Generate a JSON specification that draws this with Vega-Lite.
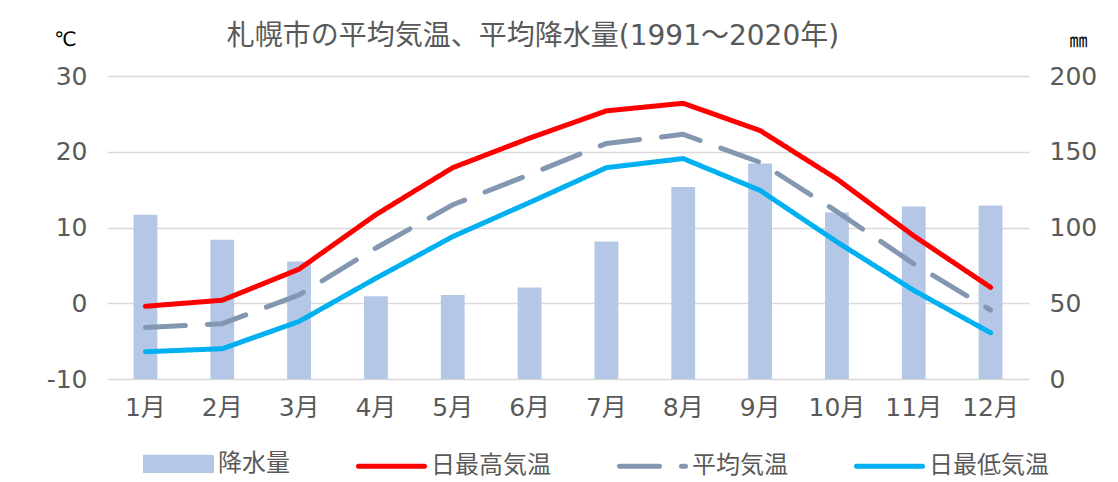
{
  "$schema": "https://vega.github.io/schema/vega-lite/v6.json",
  "width": 922,
  "height": 303,
  "autosize": {"type": "none"},
  "padding": {"left": 107, "top": 76, "right": 89, "bottom": 103},
  "background": "white",
  "title": {
    "text": "札幌市の平均気温、平均降水量(1991～2020年)",
    "anchor": "middle",
    "frame": "group",
    "dx": -35,
    "dy": 44,
    "offset": 0,
    "baseline": "alphabetic",
    "font": "'DejaVu Sans', 'Noto Sans CJK JP'",
    "fontSize": 28,
    "fontWeight": "normal",
    "color": "#595959"
  },
  "config": {
    "view": {"stroke": null},
    "font": "'DejaVu Sans', 'Noto Sans CJK JP'"
  },
  "data": {
    "values": [
      {"month": "1月", "series": "降水量", "value": 108.4},
      {"month": "2月", "series": "降水量", "value": 91.9},
      {"month": "3月", "series": "降水量", "value": 77.6},
      {"month": "4月", "series": "降水量", "value": 54.6},
      {"month": "5月", "series": "降水量", "value": 55.5},
      {"month": "6月", "series": "降水量", "value": 60.4},
      {"month": "7月", "series": "降水量", "value": 90.7},
      {"month": "8月", "series": "降水量", "value": 126.8},
      {"month": "9月", "series": "降水量", "value": 142.2},
      {"month": "10月", "series": "降水量", "value": 109.9},
      {"month": "11月", "series": "降水量", "value": 113.8},
      {"month": "12月", "series": "降水量", "value": 114.5},
      {"month": "1月", "series": "日最高気温", "value": -0.4},
      {"month": "2月", "series": "日最高気温", "value": 0.4},
      {"month": "3月", "series": "日最高気温", "value": 4.5},
      {"month": "4月", "series": "日最高気温", "value": 11.7},
      {"month": "5月", "series": "日最高気温", "value": 17.9},
      {"month": "6月", "series": "日最高気温", "value": 21.8},
      {"month": "7月", "series": "日最高気温", "value": 25.4},
      {"month": "8月", "series": "日最高気温", "value": 26.4},
      {"month": "9月", "series": "日最高気温", "value": 22.8},
      {"month": "10月", "series": "日最高気温", "value": 16.4},
      {"month": "11月", "series": "日最高気温", "value": 8.9},
      {"month": "12月", "series": "日最高気温", "value": 2.1},
      {"month": "1月", "series": "平均気温", "value": -3.2},
      {"month": "2月", "series": "平均気温", "value": -2.7},
      {"month": "3月", "series": "平均気温", "value": 1.1},
      {"month": "4月", "series": "平均気温", "value": 7.3},
      {"month": "5月", "series": "平均気温", "value": 13.0},
      {"month": "6月", "series": "平均気温", "value": 17.0},
      {"month": "7月", "series": "平均気温", "value": 21.1},
      {"month": "8月", "series": "平均気温", "value": 22.3},
      {"month": "9月", "series": "平均気温", "value": 18.6},
      {"month": "10月", "series": "平均気温", "value": 12.1},
      {"month": "11月", "series": "平均気温", "value": 5.2},
      {"month": "12月", "series": "平均気温", "value": -0.9},
      {"month": "1月", "series": "日最低気温", "value": -6.4},
      {"month": "2月", "series": "日最低気温", "value": -6.0},
      {"month": "3月", "series": "日最低気温", "value": -2.4},
      {"month": "4月", "series": "日最低気温", "value": 3.3},
      {"month": "5月", "series": "日最低気温", "value": 8.8},
      {"month": "6月", "series": "日最低気温", "value": 13.3},
      {"month": "7月", "series": "日最低気温", "value": 17.9},
      {"month": "8月", "series": "日最低気温", "value": 19.1},
      {"month": "9月", "series": "日最低気温", "value": 14.9},
      {"month": "10月", "series": "日最低気温", "value": 8.1},
      {"month": "11月", "series": "日最低気温", "value": 1.7},
      {"month": "12月", "series": "日最低気温", "value": -3.9}
    ]
  },
  "encoding": {
    "x": {
      "field": "month",
      "type": "ordinal",
      "sort": null,
      "scale": {"paddingInner": 0.69, "paddingOuter": 0.345},
      "axis": {
        "title": null,
        "labelAngle": 0,
        "ticks": false,
        "domain": false,
        "grid": false,
        "labelPadding": 16,
        "labelFontSize": 25,
        "labelColor": "#595959",
        "labelBaseline": "top"
      }
    }
  },
  "layer": [
    {
      "transform": [{"filter": "datum.series === '降水量'"}],
      "mark": {"type": "bar"},
      "encoding": {
        "y": {
          "field": "value",
          "type": "quantitative",
          "scale": {"domain": [0, 200], "nice": false, "zero": true},
          "axis": {
            "orient": "right",
            "values": [0, 50, 100, 150, 200],
            "grid": false,
            "ticks": false,
            "domain": false,
            "labelPadding": 20,
            "labelFontSize": 25,
            "labelColor": "#595959",
            "labelAlign": "left",
            "title": "㎜",
            "titleAngle": 0,
            "titleX": 49,
            "titleY": -35,
            "titleAlign": "center",
            "titleBaseline": "middle",
            "titleColor": "#000000",
            "titleFontSize": 18,
            "titleFontWeight": "normal"
          }
        },
        "color": {
          "field": "series",
          "type": "nominal",
          "scale": {
            "domain": ["降水量", "日最高気温", "平均気温", "日最低気温"],
            "range": ["#B4C7E7", "#FF0000", "#8497B0", "#00B0F0"]
          },
          "legend": {
            "title": null,
            "orient": "none",
            "legendX": 36,
            "legendY": 352,
            "direction": "horizontal",
            "padding": 0,
            "labelFont": "'Noto Sans CJK JP'",
            "labelFontSize": 24,
            "labelColor": "#595959",
            "labelOffset": 4,
            "columnPadding": 58,
            "symbolType": "stroke",
            "symbolSize": 4356,
            "symbolStrokeWidth": 5,
            "encode": {
              "symbols": {
                "update": {
                  "shape": {"signal": "datum.value === '降水量' ? 'M-1,-0.2H1V0.2H-1Z' : 'stroke'"},
                  "fill": {"signal": "datum.value === '降水量' ? '#B4C7E7' : 'transparent'"},
                  "stroke": {"signal": "datum.value === '降水量' ? 'transparent' : datum.value === '日最高気温' ? '#FF0000' : datum.value === '平均気温' ? '#8497B0' : '#00B0F0'"},
                  "strokeDash": {"signal": "datum.value === '平均気温' ? [40, 22] : [1, 0]"},
                  "strokeCap": {"value": "round"},
                  "strokeWidth": {"value": 5},
                  "opacity": {"value": 1}
                }
              }
            }
          }
        }
      }
    },
    {
      "transform": [{"filter": "datum.series !== '降水量'"}],
      "mark": {"type": "line", "strokeWidth": 5, "strokeCap": "round", "strokeJoin": "round"},
      "encoding": {
        "y": {
          "field": "value",
          "type": "quantitative",
          "scale": {"domain": [-10, 30], "nice": false, "zero": false},
          "axis": {
            "orient": "left",
            "values": [-10, 0, 10, 20, 30],
            "labelExpr": "replace(datum.label, '−', '-')",
            "grid": true,
            "gridColor": "#D9D9D9",
            "gridWidth": 1.5,
            "ticks": false,
            "domain": false,
            "labelPadding": 20,
            "labelFontSize": 25,
            "labelColor": "#595959",
            "title": "℃",
            "titleAngle": 0,
            "titleX": -42,
            "titleY": -37,
            "titleAlign": "center",
            "titleBaseline": "middle",
            "titleColor": "#000000",
            "titleFontSize": 20,
            "titleFontWeight": "normal"
          }
        },
        "color": {"field": "series", "type": "nominal"},
        "strokeDash": {
          "field": "series",
          "type": "nominal",
          "scale": {
            "domain": ["日最高気温", "平均気温", "日最低気温"],
            "range": [[1, 0], [40, 22], [1, 0]]
          },
          "legend": null
        }
      }
    }
  ],
  "resolve": {"scale": {"y": "independent"}}
}
